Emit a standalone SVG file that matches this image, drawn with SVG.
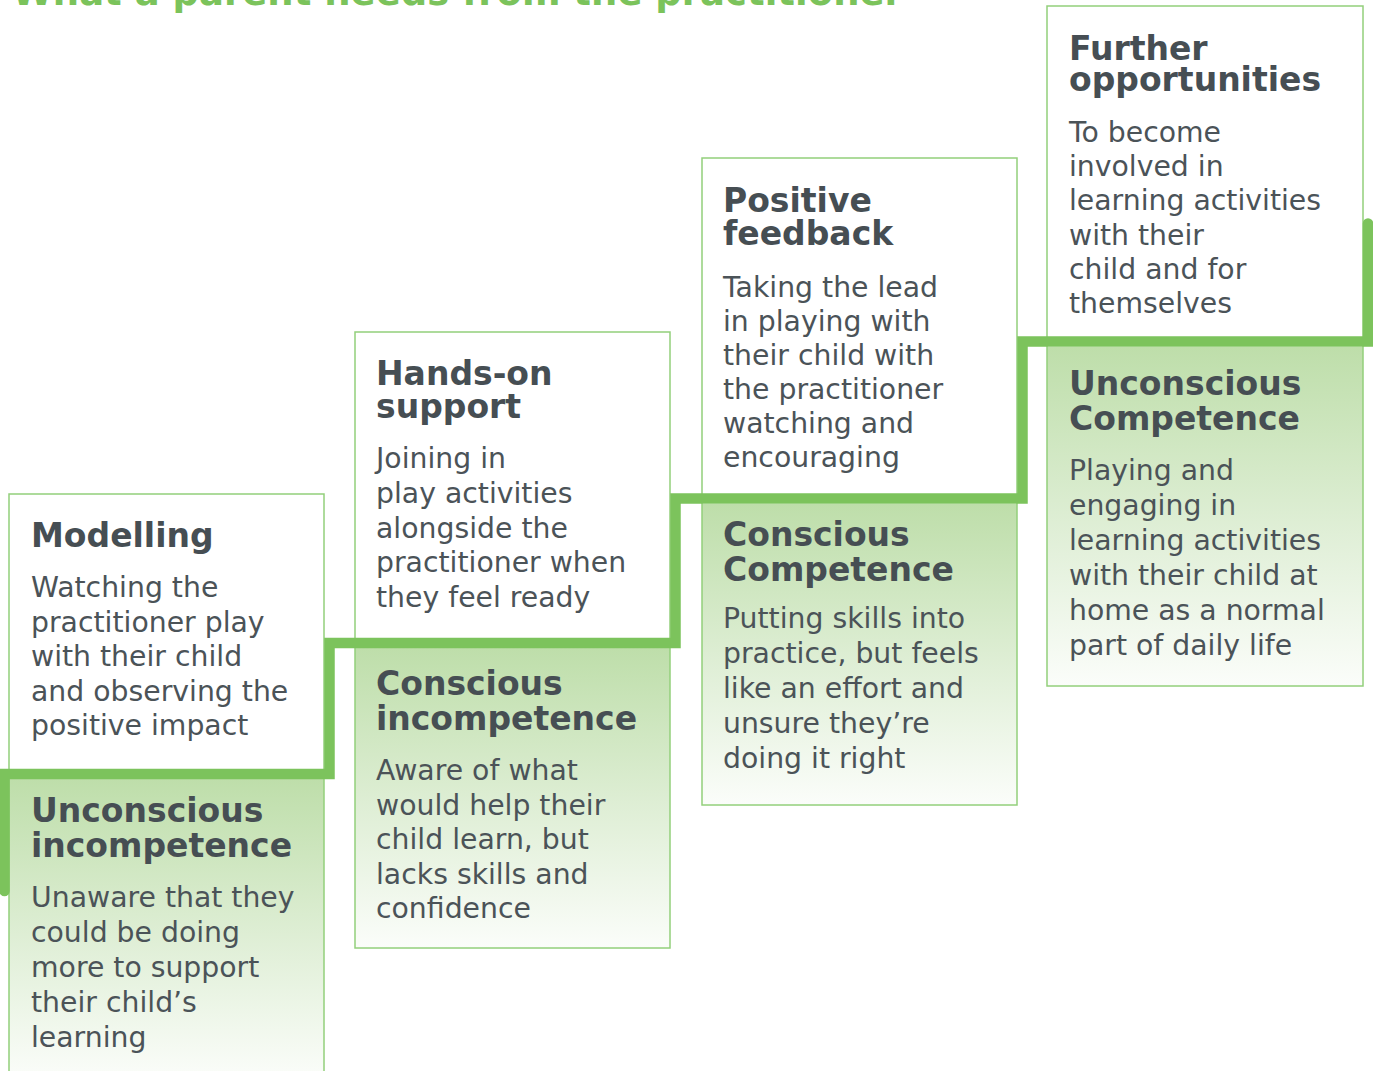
<svg xmlns="http://www.w3.org/2000/svg" width="1373" height="1071" viewBox="0 0 1373 1071">
  <defs>
    <linearGradient id="stageFill" x1="0" y1="0" x2="0" y2="1">
      <stop offset="0" stop-color="#bedeaa"/>
      <stop offset="0.55" stop-color="#e0efd7"/>
      <stop offset="1" stop-color="#fbfdfa"/>
    </linearGradient>
  </defs>
  <style>
    .card { fill: #ffffff; stroke: none; }
    .stage { fill: url(#stageFill); stroke: none; }
    .edge { fill: none; stroke: #93cf7b; stroke-width: 1.5; }
    .title { font-family: "DejaVu Sans", "Liberation Sans", sans-serif; font-weight: bold; font-size: 37px; fill: #7bc35b; }
    .head { font-family: "DejaVu Sans", "Liberation Sans", sans-serif; font-weight: bold; font-size: 33px; fill: #464e53; }
    .body { font-family: "DejaVu Sans", "Liberation Sans", sans-serif; font-size: 28.3px; fill: #4b5358; }
    .stairs { fill: none; stroke: #7cc35c; stroke-width: 10.5; stroke-linecap: round; stroke-linejoin: miter; }
  </style>

  <text class="title" x="12" y="5">What a parent needs from the practitioner</text>

  <!-- step 1: modelling / unconscious incompetence -->
  <g id="step-modelling">
    <rect class="card" x="9" y="494" width="315" height="600"/>
    <rect class="stage" x="9" y="779" width="315" height="300"/>
    <rect class="edge" x="9" y="494" width="315" height="600"/>
    <text class="head" x="31" y="547">Modelling</text>
    <text class="body">
      <tspan x="31" y="597">Watching the</tspan>
      <tspan x="31" y="631.5">practitioner play</tspan>
      <tspan x="31" y="666">with their child</tspan>
      <tspan x="31" y="700.5">and observing the</tspan>
      <tspan x="31" y="735">positive impact</tspan>
    </text>
    <text class="head">
      <tspan x="31" y="822">Unconscious</tspan>
      <tspan x="31" y="857">incompetence</tspan>
    </text>
    <text class="body">
      <tspan x="31" y="907">Unaware that they</tspan>
      <tspan x="31" y="942">could be doing</tspan>
      <tspan x="31" y="977">more to support</tspan>
      <tspan x="31" y="1012">their child’s</tspan>
      <tspan x="31" y="1047">learning</tspan>
    </text>
  </g>

  <!-- step 2: hands-on support / conscious incompetence -->
  <g id="step-hands-on">
    <rect class="card" x="355" y="332" width="315" height="616"/>
    <rect class="stage" x="355" y="648" width="315" height="300"/>
    <rect class="edge" x="355" y="332" width="315" height="616"/>
    <text class="head">
      <tspan x="376" y="385">Hands-on</tspan>
      <tspan x="376" y="418">support</tspan>
    </text>
    <text class="body">
      <tspan x="376" y="468">Joining in</tspan>
      <tspan x="376" y="503">play activities</tspan>
      <tspan x="376" y="537.5">alongside the</tspan>
      <tspan x="376" y="572">practitioner when</tspan>
      <tspan x="376" y="607">they feel ready</tspan>
    </text>
    <text class="head">
      <tspan x="376" y="695">Conscious</tspan>
      <tspan x="376" y="730">incompetence</tspan>
    </text>
    <text class="body">
      <tspan x="376" y="780">Aware of what</tspan>
      <tspan x="376" y="814.6">would help their</tspan>
      <tspan x="376" y="849.2">child learn, but</tspan>
      <tspan x="376" y="883.8">lacks skills and</tspan>
      <tspan x="376" y="918.4">confidence</tspan>
    </text>
  </g>

  <!-- step 3: positive feedback / conscious competence -->
  <g id="step-feedback">
    <rect class="card" x="702" y="158" width="315" height="647"/>
    <rect class="stage" x="702" y="504" width="315" height="301"/>
    <rect class="edge" x="702" y="158" width="315" height="647"/>
    <text class="head">
      <tspan x="723" y="212">Positive</tspan>
      <tspan x="723" y="244.5">feedback</tspan>
    </text>
    <text class="body">
      <tspan x="723" y="297">Taking the lead</tspan>
      <tspan x="723" y="331">in playing with</tspan>
      <tspan x="723" y="365">their child with</tspan>
      <tspan x="723" y="399">the practitioner</tspan>
      <tspan x="723" y="433">watching and</tspan>
      <tspan x="723" y="467">encouraging</tspan>
    </text>
    <text class="head">
      <tspan x="723" y="546">Conscious</tspan>
      <tspan x="723" y="581">Competence</tspan>
    </text>
    <text class="body">
      <tspan x="723" y="628">Putting skills into</tspan>
      <tspan x="723" y="663">practice, but feels</tspan>
      <tspan x="723" y="698">like an effort and</tspan>
      <tspan x="723" y="733">unsure they’re</tspan>
      <tspan x="723" y="768">doing it right</tspan>
    </text>
  </g>

  <!-- step 4: further opportunities / unconscious competence -->
  <g id="step-further">
    <rect class="card" x="1047" y="6" width="316" height="680"/>
    <rect class="stage" x="1047" y="347" width="316" height="339"/>
    <rect class="edge" x="1047" y="6" width="316" height="680"/>
    <text class="head">
      <tspan x="1069" y="59.5">Further</tspan>
      <tspan x="1069" y="91">opportunities</tspan>
    </text>
    <text class="body">
      <tspan x="1069" y="141.7">To become</tspan>
      <tspan x="1069" y="176">involved in</tspan>
      <tspan x="1069" y="210.3">learning activities</tspan>
      <tspan x="1069" y="244.6">with their</tspan>
      <tspan x="1069" y="279">child and for</tspan>
      <tspan x="1069" y="313.3">themselves</tspan>
    </text>
    <text class="head">
      <tspan x="1069" y="395">Unconscious</tspan>
      <tspan x="1069" y="430">Competence</tspan>
    </text>
    <text class="body">
      <tspan x="1069" y="480">Playing and</tspan>
      <tspan x="1069" y="515">engaging in</tspan>
      <tspan x="1069" y="550">learning activities</tspan>
      <tspan x="1069" y="585">with their child at</tspan>
      <tspan x="1069" y="620">home as a normal</tspan>
      <tspan x="1069" y="655">part of daily life</tspan>
    </text>
  </g>

  <!-- staircase connector running between the steps -->
  <g id="connectors">
    <path class="stairs" d="M 4.5 891 V 774 H 329.5 V 643 H 675.5 V 498.5 H 1022.5 V 341.5 H 1368 V 223.5"/>
  </g>
</svg>
